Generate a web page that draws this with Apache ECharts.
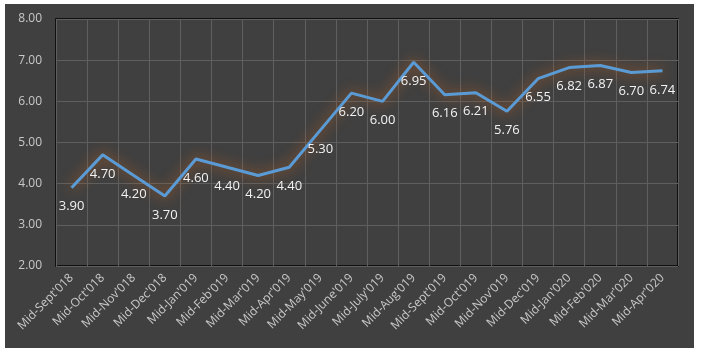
<!DOCTYPE html>
<html>
<head>
<meta charset="utf-8">
<script src="https://cdn.jsdelivr.net/npm/echarts@6/dist/echarts.min.js"></script>
<style>
html,body{margin:0;padding:0;background:#ffffff;}
#c{position:absolute;left:5px;top:4px;width:689px;height:344px;}
</style>
</head>
<body>
<div id="c"></div>
<script>
const categories = ["Mid-Sept'018","Mid-Oct'018","Mid-Nov'018","Mid-Dec'018","Mid-Jan'019","Mid-Feb'019","Mid-Mar'019","Mid-Apr'019","Mid-May'019","Mid-June'019","Mid-July'019","Mid-Aug'019","Mid-Sept'019","Mid-Oct'019","Mid-Nov'019","Mid-Dec'019","Mid-Jan'020","Mid-Feb'020","Mid-Mar'020","Mid-Apr'020"];
const values = [3.90,4.70,4.20,3.70,4.60,4.40,4.20,4.40,5.30,6.20,6.00,6.95,6.16,6.21,5.76,6.55,6.82,6.87,6.70,6.74];
const yMin = 2, yMax = 8, yStep = 1;

const chart = echarts.init(document.getElementById('c'), null, {renderer:'canvas'});
chart.setOption({
  backgroundColor: '#404040',
  animation: false,
  grid: {left: 51, top: 15, right: 16, bottom: 82, show: true, borderColor: '#000000', borderWidth: 1.5, backgroundColor: 'transparent'},
  xAxis: {
    type: 'category',
    data: categories,
    boundaryGap: true,
    axisLine: {show: false},
    axisTick: {show: false},
    splitLine: {show: true, interval: 0, lineStyle: {color: '#5f5f5f', width: 1}},
    axisLabel: {rotate: 45, interval: 0, color: '#c8c8c8', fontFamily: 'Open Sans', fontSize: 12, margin: 10}
  },
  yAxis: {
    type: 'value',
    min: yMin, max: yMax, interval: yStep,
    axisLine: {show: false},
    axisTick: {show: false},
    splitLine: {show: true, lineStyle: {color: '#5f5f5f', width: 1}},
    axisLabel: {color: '#c8c8c8', fontFamily: 'Open Sans', fontSize: 12, margin: 14, formatter: v => v.toFixed(2)}
  },
  series: [{
    type: 'line',
    data: values,
    symbol: 'circle',
    symbolSize: 1,
    showSymbol: true,
    itemStyle: {color: 'rgba(0,0,0,0)', borderWidth: 0},
    lineStyle: {color: '#5b9bd5', width: 3, shadowColor: 'rgba(200,100,30,0.9)', shadowBlur: 13},
    label: {show: true, position: 'bottom', distance: 12, color: '#f2f2f2', fontFamily: 'Open Sans', fontSize: 13, formatter: p => p.value.toFixed(2)}
  }]
});
</script>
</body>
</html>
